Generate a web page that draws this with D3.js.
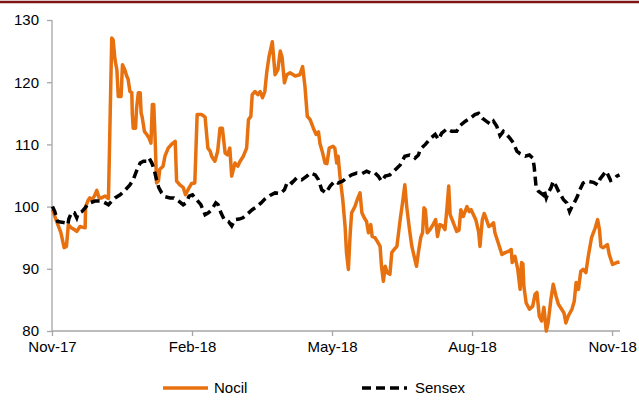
<!DOCTYPE html>
<html>
<head>
<meta charset="utf-8" />
<title>Nocil vs Sensex</title>
<style>
body { margin: 0; background: #fff; }
text { font-family: "Liberation Sans", Arial, sans-serif; fill: #000; }
</style>
</head>
<body>
<script src="https://d3js.org/d3.v7.min.js"></script>
<script>
// x = months since Nov-17
var tickLabels = ["Nov-17", "Feb-18", "May-18", "Aug-18", "Nov-18"];
var tickMonths = [0, 3, 6, 9, 12];
var yTicks = [80, 90, 100, 110, 120, 130];

var nocil = [
  [0.01,99.5],[0.10,97.6],[0.19,95.8],[0.26,93.4],[0.31,93.6],[0.35,97.1],[0.41,96.6],[0.48,96.3],
  [0.53,96.0],[0.60,96.8],[0.65,96.7],[0.71,96.6],[0.72,100],[0.78,101.1],[0.81,101.4],[0.85,101.1],
  [0.91,101.7],[0.96,102.6],[1.01,101.4],[1.06,101.4],[1.14,101.7],[1.21,101.3],[1.24,112.4],[1.28,127.1],
  [1.31,126.8],[1.35,123.6],[1.39,122],[1.42,117.7],[1.48,117.7],[1.51,122.8],[1.56,122],[1.60,121],
  [1.63,120.5],[1.67,118.5],[1.71,118.3],[1.72,115],[1.74,112.6],[1.79,112.6],[1.81,115.6],[1.85,118.3],
  [1.89,118.3],[1.91,115],[1.93,114.5],[1.98,112.1],[2.03,111.6],[2.08,111],[2.12,110.2],[2.15,116.4],
  [2.18,116.4],[2.21,110.8],[2.24,103.8],[2.28,104.1],[2.31,106],[2.38,106.5],[2.42,108.1],[2.49,109.4],
  [2.56,110],[2.64,110.5],[2.67,104.1],[2.74,103.5],[2.81,103.1],[2.86,101.9],[2.92,102.8],[2.99,103.7],
  [3.06,103.8],[3.11,114.8],[3.21,114.8],[3.28,114.4],[3.34,109.4],[3.39,108.9],[3.42,108.1],[3.49,107.3],
  [3.55,108.9],[3.60,112.6],[3.65,112.6],[3.71,108.6],[3.76,108.3],[3.81,109.4],[3.85,104.9],[3.92,107],
  [3.98,106.5],[4.03,107.3],[4.10,108.1],[4.17,109.4],[4.21,114],[4.26,114.5],[4.29,118],[4.35,118.5],
  [4.41,118],[4.46,118.5],[4.51,117.5],[4.56,118.5],[4.60,121.5],[4.65,124.1],[4.72,126.5],[4.78,121.2],
  [4.84,122],[4.89,125],[4.93,124],[4.98,119.9],[5.03,121.2],[5.10,121.5],[5.21,121],[5.31,121.2],
  [5.37,122.5],[5.42,119.3],[5.47,114.5],[5.53,114],[5.60,112.6],[5.66,111.6],[5.71,112],[5.74,110.2],
  [5.80,108.6],[5.85,107],[5.89,106.9],[5.94,109.4],[6.02,109.7],[6.06,109.4],[6.10,107],[6.13,108.1],
  [6.17,104.9],[6.23,101.1],[6.28,96.8],[6.31,92.6],[6.35,89.9],[6.39,95.8],[6.42,99],[6.49,100],
  [6.54,101.1],[6.60,102.2],[6.64,99],[6.69,98.2],[6.74,97.6],[6.78,95.8],[6.83,97.1],[6.86,95.2],
  [6.92,95],[6.97,94.4],[7.03,93.6],[7.06,90.4],[7.10,88],[7.14,90.4],[7.18,89.4],[7.24,89.1],
  [7.28,92.6],[7.33,93.1],[7.39,93.6],[7.46,97.9],[7.51,100.6],[7.56,103.5],[7.60,100],[7.66,96.3],
  [7.71,93.6],[7.76,92],[7.81,90.4],[7.85,92.6],[7.90,95],[7.94,95.8],[7.97,99.8],[8.00,99.5],
  [8.04,95.8],[8.10,96.3],[8.17,97.2],[8.22,97.9],[8.26,95.2],[8.31,97.1],[8.37,96.9],[8.42,96.3],
  [8.46,99.5],[8.50,103.3],[8.53,98.7],[8.60,97.4],[8.67,96],[8.72,96.2],[8.76,99.5],[8.81,98.4],
  [8.89,100],[8.94,99.2],[8.98,99.5],[9.03,98.7],[9.08,97.9],[9.14,96],[9.17,93.6],[9.22,97.9],
  [9.26,98.9],[9.31,97.9],[9.36,96.8],[9.41,97],[9.46,97.4],[9.49,95.8],[9.56,94.2],[9.64,92.3],
  [9.71,92.6],[9.78,92.8],[9.84,93.1],[9.86,91],[9.92,92],[9.98,89.9],[10.03,86.7],[10.06,91],
  [10.09,90.8],[10.11,87.2],[10.16,84.5],[10.23,83.5],[10.30,84],[10.35,85.9],[10.39,86.2],[10.44,82.4],
  [10.49,81.6],[10.54,83.8],[10.59,80],[10.63,81.3],[10.69,85.1],[10.74,87.5],[10.80,85.6],[10.85,84.3],
  [10.92,83.5],[10.97,82.9],[11.01,81.3],[11.06,82.4],[11.14,83.5],[11.19,84.8],[11.23,87.8],[11.28,86.7],
  [11.33,89.6],[11.38,89.9],[11.44,89.4],[11.49,92],[11.56,95],[11.64,96.6],[11.69,97.9],[11.73,96.3],
  [11.76,93.6],[11.81,93.4],[11.90,93.9],[11.94,92.3],[12.01,90.7],[12.10,91],[12.16,91.1]
];

var sensex = [
  [0.01,100],[0.06,99.2],[0.12,97.6],[0.21,97.5],[0.28,97.4],[0.34,97.1],[0.36,98],[0.42,99.1],
  [0.48,99],[0.53,98.2],[0.56,98.9],[0.64,99.2],[0.71,99.8],[0.78,100.5],[0.85,100.7],[0.92,100.9],
  [0.99,100.9],[1.06,100.9],[1.14,100.6],[1.21,100.3],[1.28,100.9],[1.35,101.4],[1.46,101.9],[1.56,102.6],
  [1.67,103.5],[1.74,104.3],[1.81,105.7],[1.89,107],[1.96,107.3],[2.03,107.3],[2.08,107.8],[2.14,107],
  [2.19,105.9],[2.24,104.3],[2.29,103],[2.35,102.2],[2.42,101.6],[2.53,101.4],[2.61,101.4],[2.71,100.9],
  [2.81,100.3],[2.87,100.6],[2.94,101.7],[3.01,101.9],[3.10,101.1],[3.19,100.3],[3.28,98.7],[3.35,99],
  [3.42,99.5],[3.51,100.6],[3.56,100.3],[3.62,99],[3.69,97.9],[3.78,97.6],[3.85,96.9],[3.92,97.9],
  [4.01,98],[4.09,98.2],[4.17,98.7],[4.29,99.5],[4.39,100],[4.48,100.6],[4.56,101.2],[4.67,101.8],
  [4.78,102.2],[4.89,102.1],[4.98,102.7],[5.03,103.7],[5.10,104.1],[5.14,103.8],[5.24,104.6],[5.35,104.3],
  [5.46,104.9],[5.53,105.4],[5.64,105.1],[5.71,104.3],[5.78,102.7],[5.87,102.2],[5.96,103.3],[6.06,104.1],
  [6.13,103.8],[6.23,104.1],[6.31,104.6],[6.42,105.1],[6.53,105.4],[6.64,105.3],[6.74,105.7],[6.85,105.3],
  [6.92,105.4],[6.99,104.9],[7.06,104.1],[7.14,104.9],[7.24,105.1],[7.35,105.9],[7.46,106.7],[7.56,108.1],
  [7.66,108.3],[7.74,108.1],[7.78,107.8],[7.85,108.3],[7.89,109.2],[8.00,110],[8.10,110.9],[8.21,111.6],
  [8.28,110.8],[8.35,111.8],[8.46,112.5],[8.56,112.1],[8.67,112.1],[8.74,113],[8.85,113.7],[8.96,114.2],
  [9.06,114.8],[9.14,115],[9.22,114.2],[9.31,113.7],[9.41,113.2],[9.46,113.7],[9.53,112.9],[9.60,111.4],
  [9.67,112.1],[9.74,111.6],[9.81,111],[9.89,110.2],[9.96,108.9],[10.03,108.5],[10.14,108.1],[10.23,108.3],
  [10.30,107.8],[10.33,106.5],[10.35,104.9],[10.37,103.3],[10.42,102.5],[10.47,102.2],[10.52,101.9],[10.54,102.7],
  [10.59,101.4],[10.63,102.2],[10.69,103],[10.74,104.1],[10.80,103.3],[10.85,102.5],[10.90,101.9],[10.96,101.1],
  [11.03,100.6],[11.09,99.2],[11.14,100],[11.21,100.9],[11.26,101.7],[11.31,102.7],[11.38,103.8],[11.46,104.1],
  [11.53,104],[11.60,103.9],[11.69,103.5],[11.74,104.4],[11.81,105.1],[11.87,105.7],[11.92,105],[11.97,104.2],
  [12.04,104.4],[12.10,104.9],[12.16,105.1]
];

var width = 639, height = 400;
var margin = {top: 20, right: 19, bottom: 69, left: 52};

var svg = d3.select("body").append("svg")
  .attr("width", width)
  .attr("height", height);

// dark red rule at the top
svg.append("line")
  .attr("x1", 0).attr("x2", width)
  .attr("y1", 2).attr("y2", 2)
  .style("stroke", "#7f1416")
  .style("stroke-width", 2.5);

var x = d3.scaleLinear()
  .domain([0, 12.17])
  .range([margin.left, width - margin.right]);

var y = d3.scaleLinear()
  .domain([80, 130])
  .range([height - margin.bottom, margin.top]);

var axisColor = "#a6a6a6";

var yAxis = svg.append("g")
  .attr("transform", "translate(" + margin.left + ",0)")
  .call(d3.axisLeft(y).tickValues(yTicks).tickSize(5).tickPadding(8));

var xAxis = svg.append("g")
  .attr("transform", "translate(0," + (height - margin.bottom) + ")")
  .call(d3.axisBottom(x).tickValues(tickMonths).tickSize(5).tickPadding(5)
    .tickFormat(function(d, i) { return tickLabels[i]; }));

[xAxis, yAxis].forEach(function(g) {
  g.select(".domain").style("stroke", axisColor).style("stroke-width", 1.3);
  g.selectAll(".tick line").style("stroke", axisColor).style("stroke-width", 1.3);
  g.selectAll("text")
    .style("font-family", '"Liberation Sans", Arial, sans-serif')
    .style("font-size", "15px")
    .style("fill", "#000");
});
// plain axis lines, no end caps
xAxis.select(".domain").attr("d", "M" + x.range()[0] + ",0H" + x.range()[1]);
yAxis.select(".domain").attr("d", "M0," + y.range()[0] + "V" + y.range()[1]);

var line = d3.line()
  .x(function(d) { return x(d[0]); })
  .y(function(d) { return y(d[1]); });

svg.append("path")
  .datum(nocil)
  .attr("d", line)
  .style("fill", "none")
  .style("stroke", "#e8710f")
  .style("stroke-width", 3.5)
  .style("stroke-linejoin", "round");

svg.append("path")
  .datum(sensex)
  .attr("d", line)
  .style("fill", "none")
  .style("stroke", "#000")
  .style("stroke-width", 3.5)
  .style("stroke-dasharray", "9,5");

// legend
var legend = svg.append("g");
var items = [
  {name: "Nocil", color: "#e8710f", dash: null, x: 163},
  {name: "Sensex", color: "#000", dash: "9,5", x: 362}
];
items.forEach(function(it) {
  legend.append("line")
    .attr("x1", it.x).attr("x2", it.x + 45)
    .attr("y1", 388).attr("y2", 388)
    .style("stroke", it.color)
    .style("stroke-width", 3.5)
    .style("stroke-dasharray", it.dash);
  legend.append("text")
    .attr("x", it.x + (it.dash ? 53 : 51))
    .attr("y", 393)
    .style("font-size", "15px")
    .text(it.name);
});
</script>
</body>
</html>
